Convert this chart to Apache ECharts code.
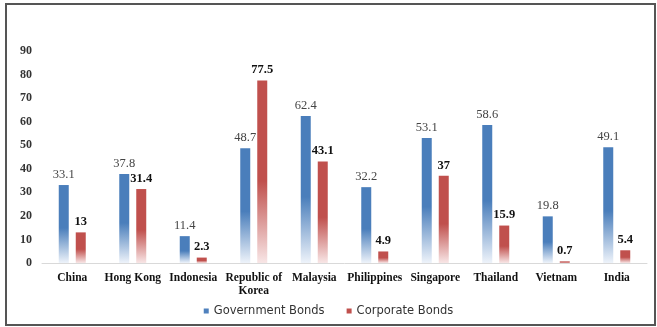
<!DOCTYPE html>
<html><head><meta charset="utf-8">
<script src="https://cdn.jsdelivr.net/npm/echarts@6/dist/echarts.min.js"></script>
<style>html,body{margin:0;padding:0;background:#fff}#c{width:657px;height:327px}</style>
</head><body><div id="c"></div>
<script>
const categories = ['China','Hong Kong','Indonesia','Republic of\nKorea','Malaysia','Philippines','Singapore','Thailand','Vietnam','India'];
const governmentBonds = [33.1, 37.8, 11.4, 48.7, 62.4, 32.2, 53.1, 58.6, 19.8, 49.1];
const corporateBonds = [13, 31.4, 2.3, 77.5, 43.1, 4.9, 37, 15.9, 0.7, 5.4];
const seriesNames = ['Government Bonds', 'Corporate Bonds'];
const yTicks = [0, 10, 20, 30, 40, 50, 60, 70, 80, 90];

const chart = echarts.init(document.getElementById('c'), null, {renderer: 'canvas'});
const grad = (top, bottom) => new echarts.graphic.LinearGradient(0, 0, 0, 1, [
  {offset: 0, color: top}, {offset: 0.55, color: top}, {offset: 1, color: bottom}]);
chart.setOption({
  animation: false,
  backgroundColor: '#fff',
  graphic: [{type: 'rect', shape: {x: 6, y: 4, width: 649, height: 321},
    style: {fill: 'none', stroke: '#555', lineWidth: 2}}],
  grid: {left: 42, right: 10, top: 51, bottom: 64},
  legend: {
    bottom: 5, left: 'center', itemWidth: 5, itemHeight: 5, itemGap: 22,
    icon: 'rect',
    textStyle: {fontFamily: 'DejaVu Sans', fontSize: 11.5, color: '#333', fontWeight: 500},
    data: [
      {name: seriesNames[0], itemStyle: {color: '#4f81bd'}},
      {name: seriesNames[1], itemStyle: {color: '#c0504d'}}]
  },
  xAxis: {
    type: 'category', data: categories,
    axisLine: {lineStyle: {color: '#d9d9d9', width: 1}},
    axisTick: {show: false},
    axisLabel: {interval: 0, margin: 9, fontFamily: 'Liberation Serif', fontWeight: 'bold',
      fontSize: 11.5, color: '#111', lineHeight: 13}
  },
  yAxis: {
    type: 'value', min: 0, max: 90, interval: 10,
    splitLine: {show: false}, axisLine: {show: false}, axisTick: {show: false},
    axisLabel: {margin: 10, fontFamily: 'Liberation Serif', fontWeight: 'bold', fontSize: 12, color: '#333',
      formatter: v => yTicks.includes(v) ? String(v) : ''}
  },
  series: [
    {name: seriesNames[0], type: 'bar', data: governmentBonds, barWidth: 10, barGap: '70%',
      itemStyle: {color: grad('#4a7ebb', '#eef3fa')},
      label: {show: true, position: 'top', distance: 4, fontFamily: 'Liberation Serif', fontSize: 12.5,
        color: '#444', fontWeight: 'normal'}},
    {name: seriesNames[1], type: 'bar', data: corporateBonds, barWidth: 10,
      itemStyle: {color: grad('#c0504d', '#f8e6e6')},
      label: {show: true, position: 'top', distance: 4, fontFamily: 'Liberation Serif', fontSize: 12.5,
        color: '#111', fontWeight: 'bold'}}
  ]
});
</script></body></html>
